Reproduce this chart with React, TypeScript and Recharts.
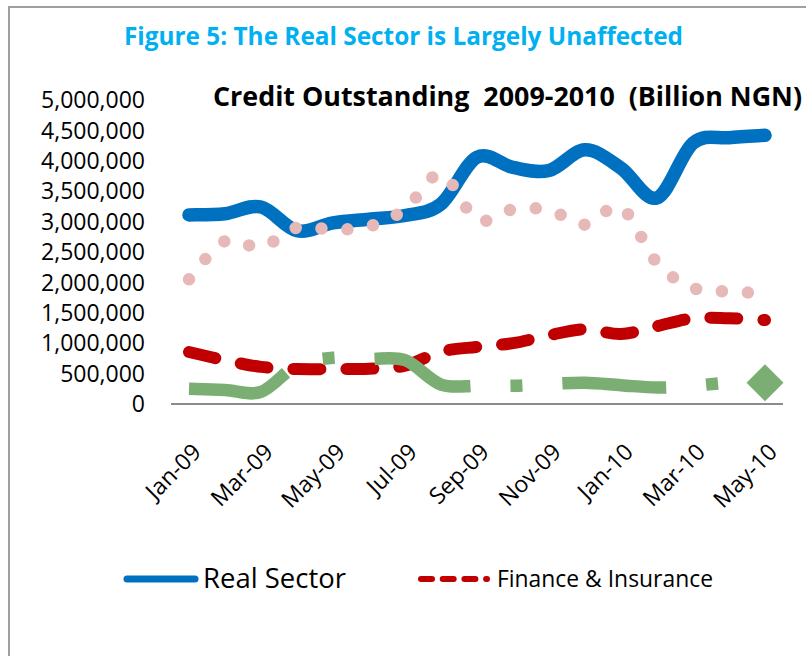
import React from 'react'
import { LineChart, Line, XAxis, YAxis } from 'recharts'

// monthly credit outstanding
const months = ['Jan-09', 'Feb-09', 'Mar-09', 'Apr-09', 'May-09', 'Jun-09', 'Jul-09', 'Aug-09', 'Sep-09', 'Oct-09', 'Nov-09', 'Dec-09', 'Jan-10', 'Feb-10', 'Mar-10', 'Apr-10', 'May-10']
const realSector = [3110000, 3130000, 3240000, 2850000, 2980000, 3040000, 3100000, 3290000, 4060000, 3890000, 3840000, 4180000, 3880000, 3390000, 4290000, 4380000, 4420000]
const financeInsurance = [855000, 720000, 610000, 575000, 575000, 580000, 630000, 860000, 940000, 1000000, 1130000, 1230000, 1150000, 1280000, 1410000, 1410000, 1380000]
const series3 = [2050000, 2680000, 2580000, 2900000, 2870000, 2920000, 3200000, 3780000, 3030000, 3200000, 3190000, 2950000, 3230000, 2320000, 1910000, 1850000, 1820000]
const series4 = [250000, 230000, 200000, 640000, 760000, 740000, 720000, 320000, 300000, 300000, 330000, 350000, 310000, 270000, 300000, 350000, 350000]
const yTicks = [0, 500000, 1000000, 1500000, 2000000, 2500000, 3000000, 3500000, 4000000, 4500000, 5000000]

const C = { blue: '#0070C0', red: '#C00000', pink: '#E6B9B8', green: '#7BAE72', axis: '#8C8C8C', frame: '#A0A0A0', title: '#00B0F0' }

const rows = months.map((m, i) => ({
  month: m,
  real: realSector[i],
  finance: financeInsurance[i],
  s3: series3[i],
  s4: series4[i],
}))

// Excel-style smoothed line (Catmull-Rom through the points)
function excelSmooth(context: any) {
  let pts: number[][] = []
  return {
    areaStart() {},
    areaEnd() {},
    lineStart() { pts = [] },
    point(x: number, y: number) { pts.push([+x, +y]) },
    lineEnd() {
      const n = pts.length
      if (!n) return
      context.moveTo(pts[0][0], pts[0][1])
      for (let i = 0; i < n - 1; i++) {
        const p0 = pts[Math.max(i - 1, 0)], p1 = pts[i], p2 = pts[i + 1], p3 = pts[Math.min(i + 2, n - 1)]
        context.bezierCurveTo(
          p1[0] + (p2[0] - p0[0]) / 6, p1[1] + (p2[1] - p0[1]) / 6,
          p2[0] - (p3[0] - p1[0]) / 6, p2[1] - (p3[1] - p1[1]) / 6,
          p2[0], p2[1],
        )
      }
    },
  }
}

const MonthTick = ({ x, y, payload }: any) => (
  <text x={x + 2} y={y} dy="0.71em" textAnchor="end" transform={`rotate(-45 ${x + 2} ${y})`} fontSize={23} fill="#000">
    {payload.value}
  </text>
)

const lastDiamond = (p: any) => {
  if (p.index !== months.length - 1) return <g key={`d${p.index}`} />
  const r = 18.5
  return <path key="diamond" d={`M${p.cx},${p.cy - r}L${p.cx + r},${p.cy}L${p.cx},${p.cy + r}L${p.cx - r},${p.cy}Z`} fill={C.green} />
}

export default function App() {
  return (
    <div style={{ position: 'absolute', left: 0, top: 0, width: 806, height: 656, overflow: 'hidden', background: '#fff', fontFamily: '"Open Sans", sans-serif' }}>
      <div style={{ position: 'absolute', left: 8, top: 6, width: 900, height: 800, borderTop: `2px solid ${C.frame}`, borderLeft: `2px solid ${C.frame}` }} />
      <div style={{ position: 'absolute', left: 0, top: 0 }}>
        <LineChart width={806} height={656} data={rows} margin={{ top: 100, right: 23, bottom: 152, left: 0 }}>
          <XAxis dataKey="month" interval={1} height={100} tickLine={false} tickSize={0} tickMargin={38} padding={{ left: 18, right: 18 }}
            axisLine={{ stroke: C.axis, strokeWidth: 2 }} tick={<MonthTick />} />
          <YAxis width={171} domain={[0, 5000000]} ticks={yTicks} interval={0} axisLine={false} tickLine={false} tickSize={0} tickMargin={26}
            tick={{ fontSize: 23, fill: '#000' }} tickFormatter={(v: number) => v.toLocaleString('en-US')} />
          <Line dataKey="real" type={excelSmooth as any} stroke={C.blue} strokeWidth={13.5} strokeLinecap="round" strokeLinejoin="round" dot={false} activeDot={false} isAnimationActive={false} />
          <Line dataKey="finance" type={excelSmooth as any} stroke={C.red} strokeWidth={12} strokeDasharray="27 26" strokeLinecap="round" dot={false} activeDot={false} isAnimationActive={false} />
          <Line dataKey="s3" type={excelSmooth as any} stroke={C.pink} strokeWidth={12.5} strokeDasharray="0 26" strokeLinecap="round" dot={false} activeDot={false} isAnimationActive={false} />
          <Line dataKey="s4" type={excelSmooth as any} stroke={C.green} strokeWidth={12.5} strokeDasharray="104 40 12 40" strokeLinecap="butt" dot={lastDiamond} activeDot={false} isAnimationActive={false} />
        </LineChart>
      </div>
      <svg width={806} height={656} style={{ position: 'absolute', left: 0, top: 0, pointerEvents: 'none' }}>
        <text x={124} y={45} fontSize={25} fontWeight={700} fill={C.title} textLength={559} lengthAdjust="spacingAndGlyphs">
          Figure 5: The Real Sector is Largely Unaffected
        </text>
        <text x={213} y={106} fontSize={26} fontWeight={700} fill="#000" textLength={589} lengthAdjust="spacingAndGlyphs" style={{ whiteSpace: 'pre' }}>
          {'Credit Outstanding  2009-2010  (Billion NGN)'}
        </text>
        {/* legend */}
        <line x1={127} y1={579} x2={195} y2={579} stroke={C.blue} strokeWidth={7} strokeLinecap="round" />
        <text x={203} y={588} fontSize={28} fill="#000" textLength={143} lengthAdjust="spacingAndGlyphs">Real Sector</text>
        <line x1={421} y1={579} x2={487} y2={579} stroke={C.red} strokeWidth={6} strokeDasharray="11 10.7" strokeLinecap="round" />
        <text x={497} y={587} fontSize={24} fill="#000" textLength={216} lengthAdjust="spacingAndGlyphs">Finance &amp; Insurance</text>
      </svg>
    </div>
  )
}
